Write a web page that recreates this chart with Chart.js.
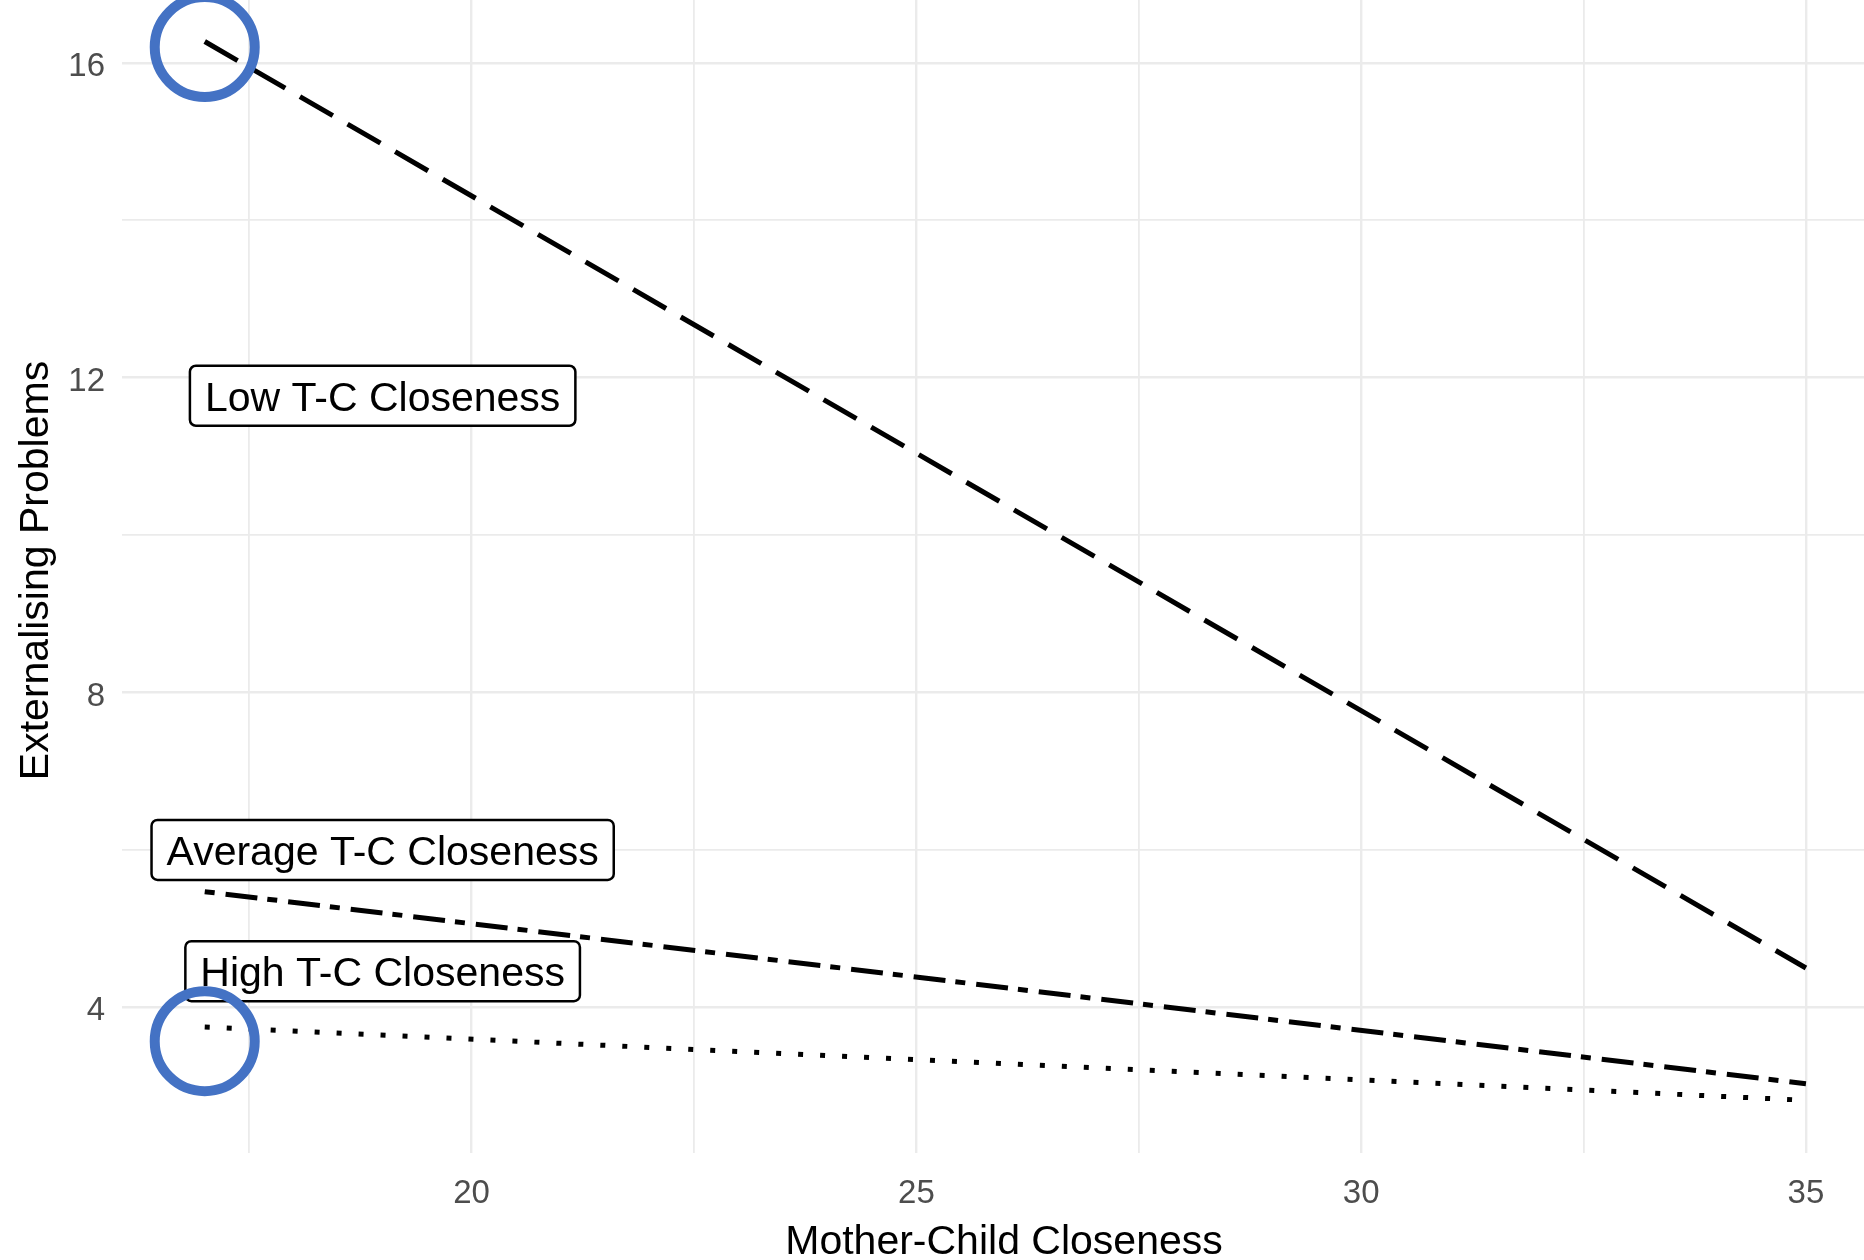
<!DOCTYPE html>
<html>
<head>
<meta charset="utf-8">
<title>Externalising Problems by Mother-Child Closeness</title>
<script src="https://cdn.jsdelivr.net/npm/chart.js@4.4.1/dist/chart.umd.min.js"></script>
<style>
  html, body { margin: 0; padding: 0; background: #fff; overflow: hidden; }
  #plot { position: absolute; left: 0; top: -12px; }
</style>
</head>
<body>
<canvas id="plot" width="1886" height="1280"></canvas>
<script>
// mother-child closeness at both ends of each fitted line
const closeness = [17, 35];
const lowTC = [16.27, 4.5];
const averageTC = [5.47, 3.03];
const highTC = [3.75, 2.82];

// labels placed on the chart
const labelText = ['Low T-C Closeness', 'Average T-C Closeness', 'High T-C Closeness'];
const labelX = [19, 19, 19];
const labelY = [11.77, 6.0, 4.46];

// blue rings marking the line starts
const ringX = [17, 17];
const ringY = [16.2, 3.57];

const xTickLabels = [20, 25, 30, 35];
const yTickLabels = [4, 8, 12, 16];

const family = '"Liberation Sans", Arial, sans-serif';
Chart.defaults.font.family = family;

function points(ys) {
    return closeness.map((x, i) => ({x: x, y: ys[i]}));
}

// white boxes with the line names (drawn under the lines, over the grid)
const labelPlugin = {
    id: 'lineLabels',
    beforeDatasetsDraw(chart) {
        const c = chart.ctx;
        const xs = chart.scales.x;
        const ys = chart.scales.y;
        c.save();
        c.font = '41px ' + family;
        for (let i = 0; i < labelText.length; i++) {
            const cx = xs.getPixelForValue(labelX[i]);
            const cy = ys.getPixelForValue(labelY[i]);
            const w = c.measureText(labelText[i]).width + 30;
            const h = 60;
            c.beginPath();
            c.roundRect(cx - w / 2, cy - h / 2, w, h, 6);
            c.fillStyle = '#fff';
            c.fill();
            c.lineWidth = 2.5;
            c.strokeStyle = '#000';
            c.stroke();
            c.fillStyle = '#000';
            c.textAlign = 'center';
            c.textBaseline = 'alphabetic';
            c.fillText(labelText[i], cx, cy + 15);
        }
        c.restore();
    }
};

const lineStyle = {
    borderColor: '#000',
    borderWidth: 5,
    borderCapStyle: 'butt',
    pointRadius: 0,
    fill: false,
    tension: 0,
    order: 1
};

var chart = new Chart(document.getElementById('plot'), {
    type: 'line',
    data: {
        datasets: [
            {
                label: 'rings',
                data: ringX.map((x, i) => ({x: x, y: ringY[i]})),
                showLine: false,
                pointRadius: 50,
                pointBorderWidth: 10,
                pointBorderColor: '#4472C4',
                pointBackgroundColor: 'rgba(0,0,0,0)',
                clip: false,
                order: 0
            },
            Object.assign({label: 'Low T-C Closeness', data: points(lowTC), borderDash: [38, 17]}, lineStyle),
            Object.assign({label: 'Average T-C Closeness', data: points(averageTC), borderDash: [10, 11, 32, 10]}, lineStyle),
            Object.assign({label: 'High T-C Closeness', data: points(highTC), borderDash: [5, 17]}, lineStyle)
        ]
    },
    options: {
        responsive: false,
        animation: false,
        devicePixelRatio: 1,
        layout: {padding: 0, autoPadding: false},
        plugins: {
            legend: {display: false},
            tooltip: {enabled: false}
        },
        scales: {
            x: {
                type: 'linear',
                min: 16.07,
                max: 35.9,
                border: {display: false},
                grid: {
                    color: '#EBEBEB',
                    drawTicks: false,
                    lineWidth: ctx => (ctx.tick && xTickLabels.includes(ctx.tick.value)) ? 2.4 : 1.8
                },
                ticks: {
                    stepSize: 2.5,
                    includeBounds: false,
                    autoSkip: false,
                    maxRotation: 0,
                    padding: 21,
                    color: '#4D4D4D',
                    font: {size: 33},
                    callback: v => xTickLabels.includes(v) ? String(v) : ''
                },
                title: {
                    display: true,
                    text: 'Mother-Child Closeness',
                    color: '#000',
                    font: {size: 41},
                    padding: {top: 0, bottom: 1}
                },
                afterFit: s => { s.height = 115; s.paddingLeft = 0; s.paddingRight = 0; }
            },
            y: {
                type: 'linear',
                min: 2.15,
                max: 16.95,
                border: {display: false},
                grid: {
                    color: '#EBEBEB',
                    drawTicks: false,
                    lineWidth: ctx => (ctx.tick && yTickLabels.includes(ctx.tick.value)) ? 2.4 : 1.8
                },
                ticks: {
                    stepSize: 2,
                    includeBounds: false,
                    autoSkip: false,
                    padding: 17,
                    labelOffset: 4,
                    color: '#4D4D4D',
                    font: {size: 33},
                    callback: v => yTickLabels.includes(v) ? String(v) : ''
                },
                title: {
                    display: true,
                    text: 'Externalising Problems',
                    color: '#000',
                    font: {size: 41},
                    padding: {top: 12, bottom: 0}
                },
                afterFit: s => { s.width = 122; s.paddingTop = 0; s.paddingBottom = 0; }
            }
        }
    },
    plugins: [labelPlugin]
});
</script>
</body>
</html>
